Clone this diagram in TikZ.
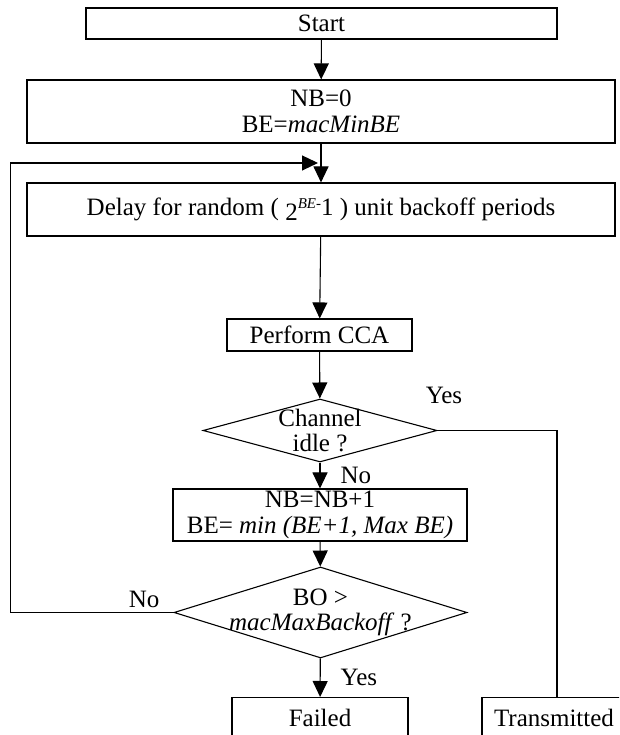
\documentclass[tikz,border=0pt]{standalone}
\usepackage{fontspec}
\setmainfont{Liberation Serif}
\usetikzlibrary{arrows.meta,shapes.geometric}
\newcommand{\flowfont}{\fontsize{25}{25.5}\selectfont}

\begin{document}
\begin{tikzpicture}[x=1pt,y=1pt,line width=1.1pt,
    block/.style={draw, rectangle, inner sep=0pt, align=center, font=\flowfont},
    decision/.style={draw, diamond, inner sep=0pt},
    lbl/.style={font=\flowfont, inner sep=0pt},
    arr/.style={-{Triangle[length=16pt,width=15pt]}}]
    \useasboundingbox (0,0) rectangle (619,735);
    \clip (0,0) rectangle (619,735);

    % Boxes and decisions
    \node[block, minimum width=471pt, minimum height=31pt] (start) at (321.5,711.5) {Start};
    \node[block, minimum width=588pt, minimum height=63pt] (init) at (321,623.5)
        {NB=0\\BE=\textit{macMinBE}};
    \node[block, minimum width=588pt, minimum height=53pt] (delay) at (321,525.5)
        {Delay for random ( \raisebox{-5pt}{2}\raisebox{7pt}{\fontsize{15}{15}\selectfont\textit{BE}-}1 ) unit backoff periods};
    \node[block, minimum width=185pt, minimum height=32pt] (cca) at (319.5,400) {Perform CCA};
    \node[decision, minimum width=234pt, minimum height=63pt,
        label={[lbl,align=center]center:{Channel\\idle ?}}] (idle) at (320,304.5) {};
    \node[block, minimum width=294pt, minimum height=52pt] (update) at (320,220)
        {NB=NB+1\\BE= \textit{min (BE+1, Max BE)}};
    \node[decision, minimum width=293pt, minimum height=91pt,
        label={[lbl,align=center]center:{BO >\\\textit{macMaxBackoff} ?}}] (maxbo) at (320.5,122.5) {};
    \node[block, minimum width=176pt, minimum height=40pt, anchor=north] (failed) at (320,38) {Failed};
    \node[block, minimum width=144pt, minimum height=40pt, anchor=north] (sent) at (554,38) {Transmitted};

    % Connectors
    \draw[arr] (start) -- (init);
    \draw[arr] (init) -- (delay);
    \draw[arr] (delay) -- (cca);
    \draw[arr] (cca) -- (idle);
    \draw[arr] (idle) -- node[lbl, right=20pt] (no1) {No} (update);
    \draw[arr] (update) -- (maxbo);
    \draw[arr] (maxbo) -- node[lbl, right=20pt] (yes2) {Yes} (failed);
    \draw (idle.east) -| ([xshift=3pt]sent.north);
    \node[lbl] (yes1) at (444,340) {Yes};

    % Back to the delay
    \coordinate (loopin) at (318,572);
    \draw[arr] (maxbo.west) -- node[lbl, pos=0.18, above=4pt] (no2) {No} ++(-163,0) |- (loopin);
\end{tikzpicture}
\end{document}
